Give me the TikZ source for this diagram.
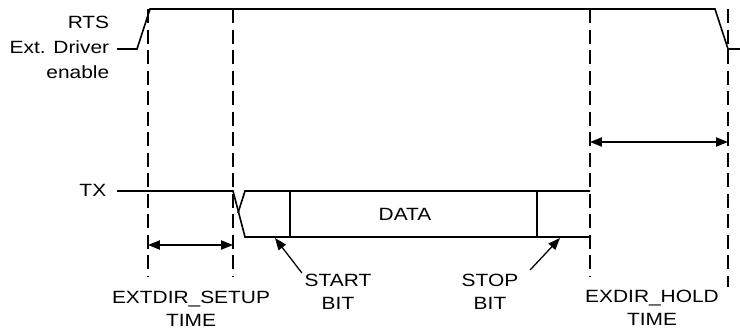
\documentclass[tikz,border=0pt]{standalone}
\usepackage{fontspec}
\setmainfont{Liberation Sans}[FakeStretch=1.18]
\usetikzlibrary{arrows.meta,positioning}
\tikzset{
  guide/.style={dash pattern=on 10pt off 4.6pt},
  span/.style={{Triangle[length=8.5pt,width=6.5pt]}-{Triangle[length=8.5pt,width=6.5pt]}},
  pointer/.style={-{Triangle[length=8.5pt,width=6.5pt]},line width=0.9pt},
  lbl/.style={inner sep=0pt,align=center,font=\fontsize{12.6}{16.3}\selectfont}
}

\begin{document}
\begin{tikzpicture}[x=0.025cm,y=-0.025cm,line width=1.15pt]
  \useasboundingbox (0,0) rectangle (740,329);
  % signal names
  \node[lbl,align=right,anchor=north east,font=\fontsize{12.6}{17.8}\selectfont] (rts) at (110,15) {RTS\\Ext. Driver\\enable};
  \node[lbl,anchor=east] (tx) at (107,190) {TX};
  % RTS waveform
  \draw (117,49) -- (137,49) -- (150,9) -- (715,9) -- (728,49) -- (740,49);
  % TX waveform
  \draw (117,191) -- (233,191) -- (245,237) -- (590,237);
  \draw (238,213) -- (245,191) -- (590,191);
  \draw (290,191) -- (290,237);
  \draw (537,191) -- (537,237);
  \node[lbl] (data) at (405,214) {DATA};
  % timing guides
  \foreach \x/\y in {148/277,233/277,590/276,728/287}
    \draw[guide] (\x,9) -- (\x,\y);
  \coordinate (setA) at (148,245);
  \coordinate (setB) at (233,245);
  \coordinate (holdA) at (590,142);
  \coordinate (holdB) at (728,142);
  \draw[span] (setA) -- (setB);
  \draw[span] (holdA) -- (holdB);
  % bit pointers
  \node[lbl,anchor=north] (start) at (338,273) {START\\BIT};
  \node[lbl,anchor=north] (stop) at (490,273) {STOP\\BIT};
  \coordinate (startTip) at (275,238);
  \coordinate (stopTip) at (560,238);
  \draw[pointer] ([shift={(-2,0)}]start.north west) -- (startTip);
  \draw[pointer] ([shift={(11,-3)}]stop.north east) -- (stopTip);
  % interval names
  \node[lbl,anchor=north] (setup) at (191,290) {EXTDIR\_SETUP\\TIME};
  \node[lbl,anchor=north] (hold) at (652,289) {EXDIR\_HOLD\\TIME};
\end{tikzpicture}
\end{document}
